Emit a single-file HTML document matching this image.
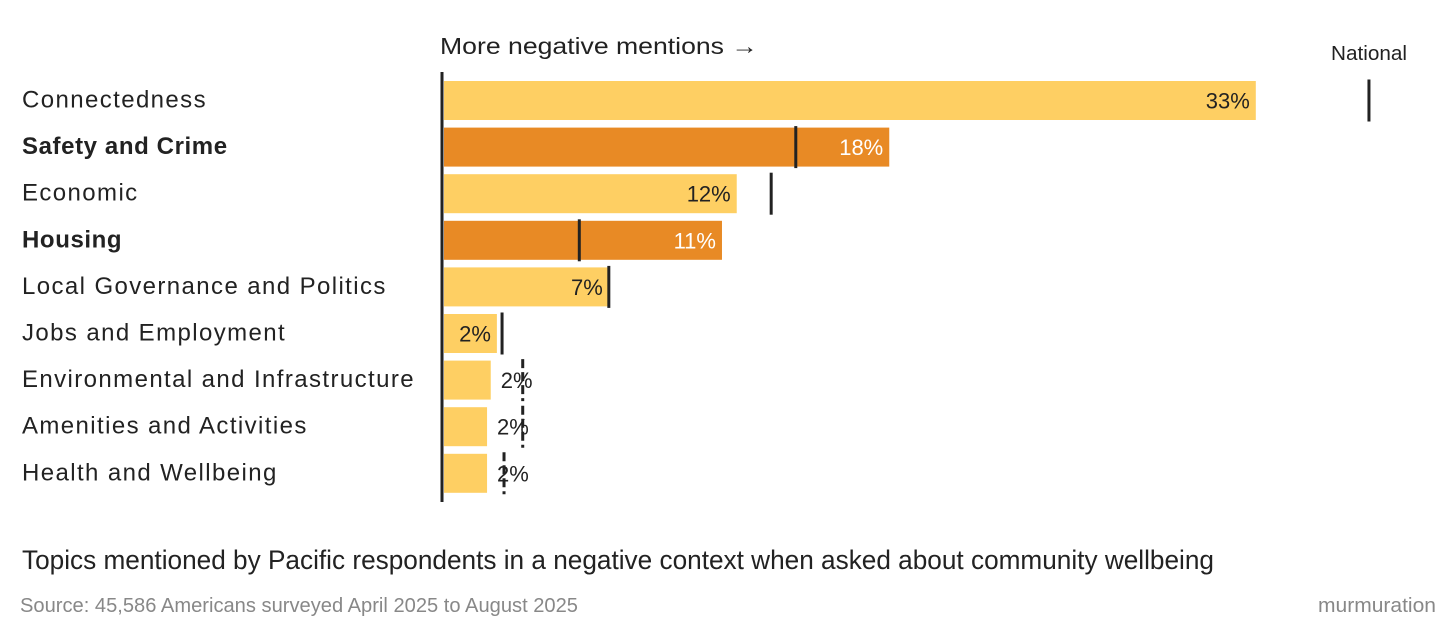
<!DOCTYPE html>
<html><head><meta charset="utf-8"><style>
html,body{margin:0;padding:0;background:#fff;}
svg{display:block;font-family:"Liberation Sans",sans-serif;}
</style></head><body>
<svg id="chart" width="1456" height="641">
<text x="440" y="54" font-size="23" fill="#222" textLength="318" lengthAdjust="spacingAndGlyphs">More negative mentions →</text>
<text x="1369" y="60" font-size="20" fill="#222" text-anchor="middle" textLength="76" lengthAdjust="spacingAndGlyphs">National</text>
<g id="bars"></g>
<line x1="442" y1="72" x2="442" y2="502" stroke="#222" stroke-width="3"/>
<text x="22" y="569" font-size="27" fill="#222" textLength="1192" lengthAdjust="spacingAndGlyphs">Topics mentioned by Pacific respondents in a negative context when asked about community wellbeing</text>
<text x="20" y="612" font-size="20" fill="#888" textLength="558" lengthAdjust="spacingAndGlyphs">Source: 45,586 Americans surveyed April 2025 to August 2025</text>
<text x="1436" y="612" font-size="20" fill="#888" text-anchor="end" textLength="118" lengthAdjust="spacingAndGlyphs">murmuration</text>
</svg>
<script>
const categories=["Connectedness","Safety and Crime","Economic","Housing","Local Governance and Politics","Jobs and Employment","Environmental and Infrastructure","Amenities and Activities","Health and Wellbeing"];
const values=[33,18.1,11.9,11.3,6.7,2.15,1.9,1.75,1.75];
const labels=["33%","18%","12%","11%","7%","2%","2%","2%","2%"];
const national=[37.6,14.3,13.3,5.5,6.7,2.36,3.2,3.2,2.44];
const highlighted=[false,true,false,true,false,false,false,false,false];
const ns="http://www.w3.org/2000/svg";
const g=document.getElementById("bars");
const x=v=>444+v*24.6;
const yc=i=>100.5+i*46.6;
function mk(t,a){const e=document.createElementNS(ns,t);for(const k in a)e.setAttribute(k,a[k]);return e;}
categories.forEach((c,i)=>{
  const y=yc(i);
  const lab=mk("text",{x:22,y:y+7,"font-size":24,fill:"#222","letter-spacing":highlighted[i]?"0.6":"1.4","font-weight":highlighted[i]?"bold":"normal"});
  lab.textContent=c;
  
  
  g.appendChild(lab);
  const w=x(values[i])-444;
  const r=mk("rect",{x:444,y:y-19.5,width:w,height:39,fill:highlighted[i]?"#e88a25":"#fecf63"});
  
  
  g.appendChild(r);
  const nx=x(national[i]);
  const inside=w>50;
  const n=mk("line",{x1:nx,x2:nx,y1:y-21,y2:y+21,stroke:"#222","stroke-width":3});
  if(!inside) n.setAttribute("stroke-dasharray","9 4");
  
  
  g.appendChild(n);
  const vt=mk("text",{x:inside?x(values[i])-6:x(values[i])+10,y:y+8,"font-size":22,fill:highlighted[i]?"#fff":"#222","text-anchor":inside?"end":"start"});
  vt.textContent=labels[i];
  
  
  g.appendChild(vt);
});
</script>
</body></html>
